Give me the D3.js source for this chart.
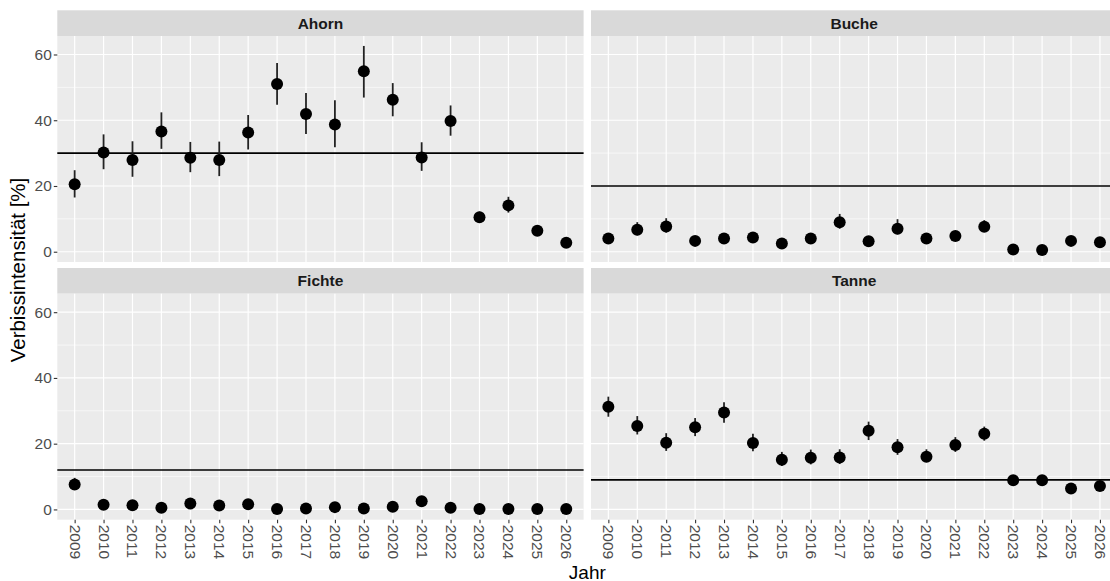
<!DOCTYPE html>
<html>
<head>
<meta charset="utf-8">
<script src="https://cdn.jsdelivr.net/npm/d3@7"></script>
<style>
  body { margin: 0; background: #fff; }
  svg { display: block; font-family: "Liberation Sans", Arial, sans-serif; }
</style>
</head>
<body>
<div id="chart"></div>
<script>
// data
var years = ["2009","2010","2011","2012","2013","2014","2015","2016","2017","2018",
             "2019","2020","2021","2022","2023","2024","2025","2026"];
var species = ["Ahorn", "Buche", "Fichte", "Tanne"];
var targets = [30, 20, 12, 9];
var yTicks = [0, 20, 40, 60];

var ahornVal = [20.5, 30.2, 27.9, 36.6, 28.6, 27.9, 36.3, 51.0, 41.9, 38.7, 54.9, 46.2, 28.7, 39.8, 10.5, 14.1, 6.4, 2.7];
var ahornLo  = [16.5, 25.1, 22.8, 31.3, 24.2, 23.0, 31.1, 44.7, 35.8, 31.8, 46.9, 41.2, 24.6, 35.3, 9.0, 11.9, 5.1, 1.9];
var ahornHi  = [24.8, 35.7, 33.6, 42.4, 33.4, 33.5, 41.6, 57.4, 48.3, 46.1, 62.6, 51.3, 33.3, 44.5, 12.2, 16.7, 7.8, 3.5];

var bucheVal = [4.0, 6.7, 7.7, 3.3, 4.0, 4.3, 2.5, 4.0, 9.0, 3.2, 7.0, 4.0, 4.8, 7.6, 0.7, 0.5, 3.3, 2.9];
var bucheLo  = [3.0, 5.0, 5.8, 2.5, 3.0, 3.2, 1.8, 3.0, 7.0, 2.3, 5.3, 3.0, 3.7, 6.0, 0.3, 0.1, 2.4, 2.1];
var bucheHi  = [5.2, 9.0, 10.2, 4.3, 5.2, 5.6, 3.4, 5.3, 11.5, 4.3, 9.9, 5.2, 6.3, 9.6, 1.3, 1.0, 4.4, 3.9];

var fichteVal = [7.6, 1.4, 1.3, 0.5, 1.8, 1.2, 1.6, 0.1, 0.3, 0.7, 0.3, 0.8, 2.5, 0.5, 0.1, 0.1, 0.1, 0.1];
var fichteLo  = [6.0, 0.8, 0.7, 0.2, 1.1, 0.6, 1.0, 0.0, 0.0, 0.3, 0.0, 0.3, 1.6, 0.1, 0.0, 0.0, 0.0, 0.0];
var fichteHi  = [9.6, 2.2, 2.1, 1.0, 2.7, 2.0, 2.5, 0.4, 0.8, 1.3, 0.8, 1.5, 3.6, 1.0, 0.3, 0.3, 0.3, 0.3];

var tanneVal = [31.2, 25.4, 20.3, 25.0, 29.5, 20.2, 15.1, 15.7, 15.8, 23.9, 18.9, 16.0, 19.6, 23.0, 8.9, 8.9, 6.4, 7.1];
var tanneLo  = [28.2, 22.8, 17.8, 22.3, 26.4, 17.7, 13.2, 13.7, 13.8, 21.1, 16.6, 14.4, 17.5, 20.9, 7.6, 7.6, 5.3, 6.0];
var tanneHi  = [34.3, 28.4, 23.2, 27.8, 32.6, 23.0, 17.5, 18.2, 18.3, 26.7, 21.4, 18.3, 22.0, 25.2, 10.3, 10.3, 7.6, 8.3];

var seriesVal = [ahornVal, bucheVal, fichteVal, tanneVal];
var seriesLo  = [ahornLo, bucheLo, fichteLo, tanneLo];
var seriesHi  = [ahornHi, bucheHi, fichteHi, tanneHi];

var width = 1110, height = 581;
var left = 57.3, panelW = 526.3, colGap = 7.4;
var stripH = 25.7, panelH = 226, rowTop = [10.3, 268];

var svg = d3.select("#chart").append("svg")
    .attr("width", width)
    .attr("height", height);

// shared scales (ggplot: discrete x with 0.6 expansion, y with 5% expansion)
var x = d3.scalePoint().domain(years).range([0, panelW]).padding(0.6);
var yMin = 0, yMax = 62.5, pad = (yMax - yMin) * 0.05;
var y = d3.scaleLinear().domain([yMin - pad, yMax + pad]).range([panelH, 0]);

species.forEach(function(name, i) {
    var col = i % 2, row = Math.floor(i / 2);
    var px = left + col * (panelW + colGap),
        sy = rowTop[row],
        py = sy + stripH;

    // strip
    var strip = svg.append("g").attr("transform", "translate(" + px + "," + sy + ")");
    strip.append("rect").attr("width", panelW).attr("height", stripH).attr("fill", "#D9D9D9");
    strip.append("text")
        .attr("x", panelW / 2).attr("y", stripH / 2)
        .attr("text-anchor", "middle").attr("dominant-baseline", "central")
        .attr("font-size", 15.5).attr("font-weight", "bold").attr("fill", "#1A1A1A")
        .text(name);

    var g = svg.append("g").attr("transform", "translate(" + px + "," + py + ")");
    g.append("rect").attr("width", panelW).attr("height", panelH).attr("fill", "#EBEBEB");

    // minor grid
    g.selectAll(".minor").data([10, 30, 50]).enter().append("line")
        .attr("x1", 0).attr("x2", panelW)
        .attr("y1", d => y(d)).attr("y2", d => y(d))
        .attr("stroke", "#fff").attr("stroke-width", 0.6);
    // major grid
    g.selectAll(".hgrid").data(yTicks).enter().append("line")
        .attr("x1", 0).attr("x2", panelW)
        .attr("y1", d => y(d)).attr("y2", d => y(d))
        .attr("stroke", "#fff").attr("stroke-width", 1.2);
    g.selectAll(".vgrid").data(years).enter().append("line")
        .attr("x1", d => x(d)).attr("x2", d => x(d))
        .attr("y1", 0).attr("y2", panelH)
        .attr("stroke", "#fff").attr("stroke-width", 1.2);

    // target line
    g.append("line")
        .attr("x1", 0).attr("x2", panelW)
        .attr("y1", y(targets[i])).attr("y2", y(targets[i]))
        .attr("stroke", "#000").attr("stroke-width", 1.7);

    var pts = years.map(function(yr, j) {
        return { year: yr, v: seriesVal[i][j], lo: seriesLo[i][j], hi: seriesHi[i][j] };
    });

    g.selectAll(".err").data(pts).enter().append("line")
        .attr("x1", d => x(d.year)).attr("x2", d => x(d.year))
        .attr("y1", d => y(d.lo)).attr("y2", d => y(d.hi))
        .attr("stroke", "#222").attr("stroke-width", 1.8);
    g.selectAll(".pt").data(pts).enter().append("circle")
        .attr("cx", d => x(d.year)).attr("cy", d => y(d.v))
        .attr("r", 6).attr("fill", "#000");

    // y axis on left column
    if (col === 0) {
        var ya = g.append("g").call(d3.axisLeft(y).tickValues(yTicks).tickSize(3.5).tickPadding(2));
        ya.select(".domain").remove();
        ya.selectAll("line").attr("stroke", "#333").attr("stroke-width", 1.1);
        ya.selectAll("text").attr("font-size", 15.5).attr("fill", "#4D4D4D")
            .attr("font-family", "Liberation Sans, Arial, sans-serif");
    }
    // x axis on bottom row
    if (row === 1) {
        var xa = g.append("g").attr("transform", "translate(0," + panelH + ")")
            .call(d3.axisBottom(x).tickSize(3.5).tickPadding(0));
        xa.select(".domain").remove();
        xa.selectAll("line").attr("stroke", "#333").attr("stroke-width", 1.1);
        xa.selectAll("text")
            .attr("font-size", 15.5).attr("fill", "#4D4D4D")
            .attr("font-family", "Liberation Sans, Arial, sans-serif")
            .attr("y", 0).attr("dy", null)
            .attr("transform", "translate(0,5) rotate(90)")
            .attr("text-anchor", "start")
            .attr("dominant-baseline", "central");
    }
});

// axis titles
svg.append("text")
    .attr("x", (left + left + 2 * panelW + colGap) / 2).attr("y", 578.5)
    .attr("text-anchor", "middle").attr("font-size", 19).attr("fill", "#000")
    .text("Jahr");

svg.append("text")
    .attr("transform", "translate(25," + 270 + ") rotate(-90)")
    .attr("text-anchor", "middle").attr("font-size", 20.5).attr("fill", "#000")
    .text("Verbissintensität [%]");
</script>
</body>
</html>
